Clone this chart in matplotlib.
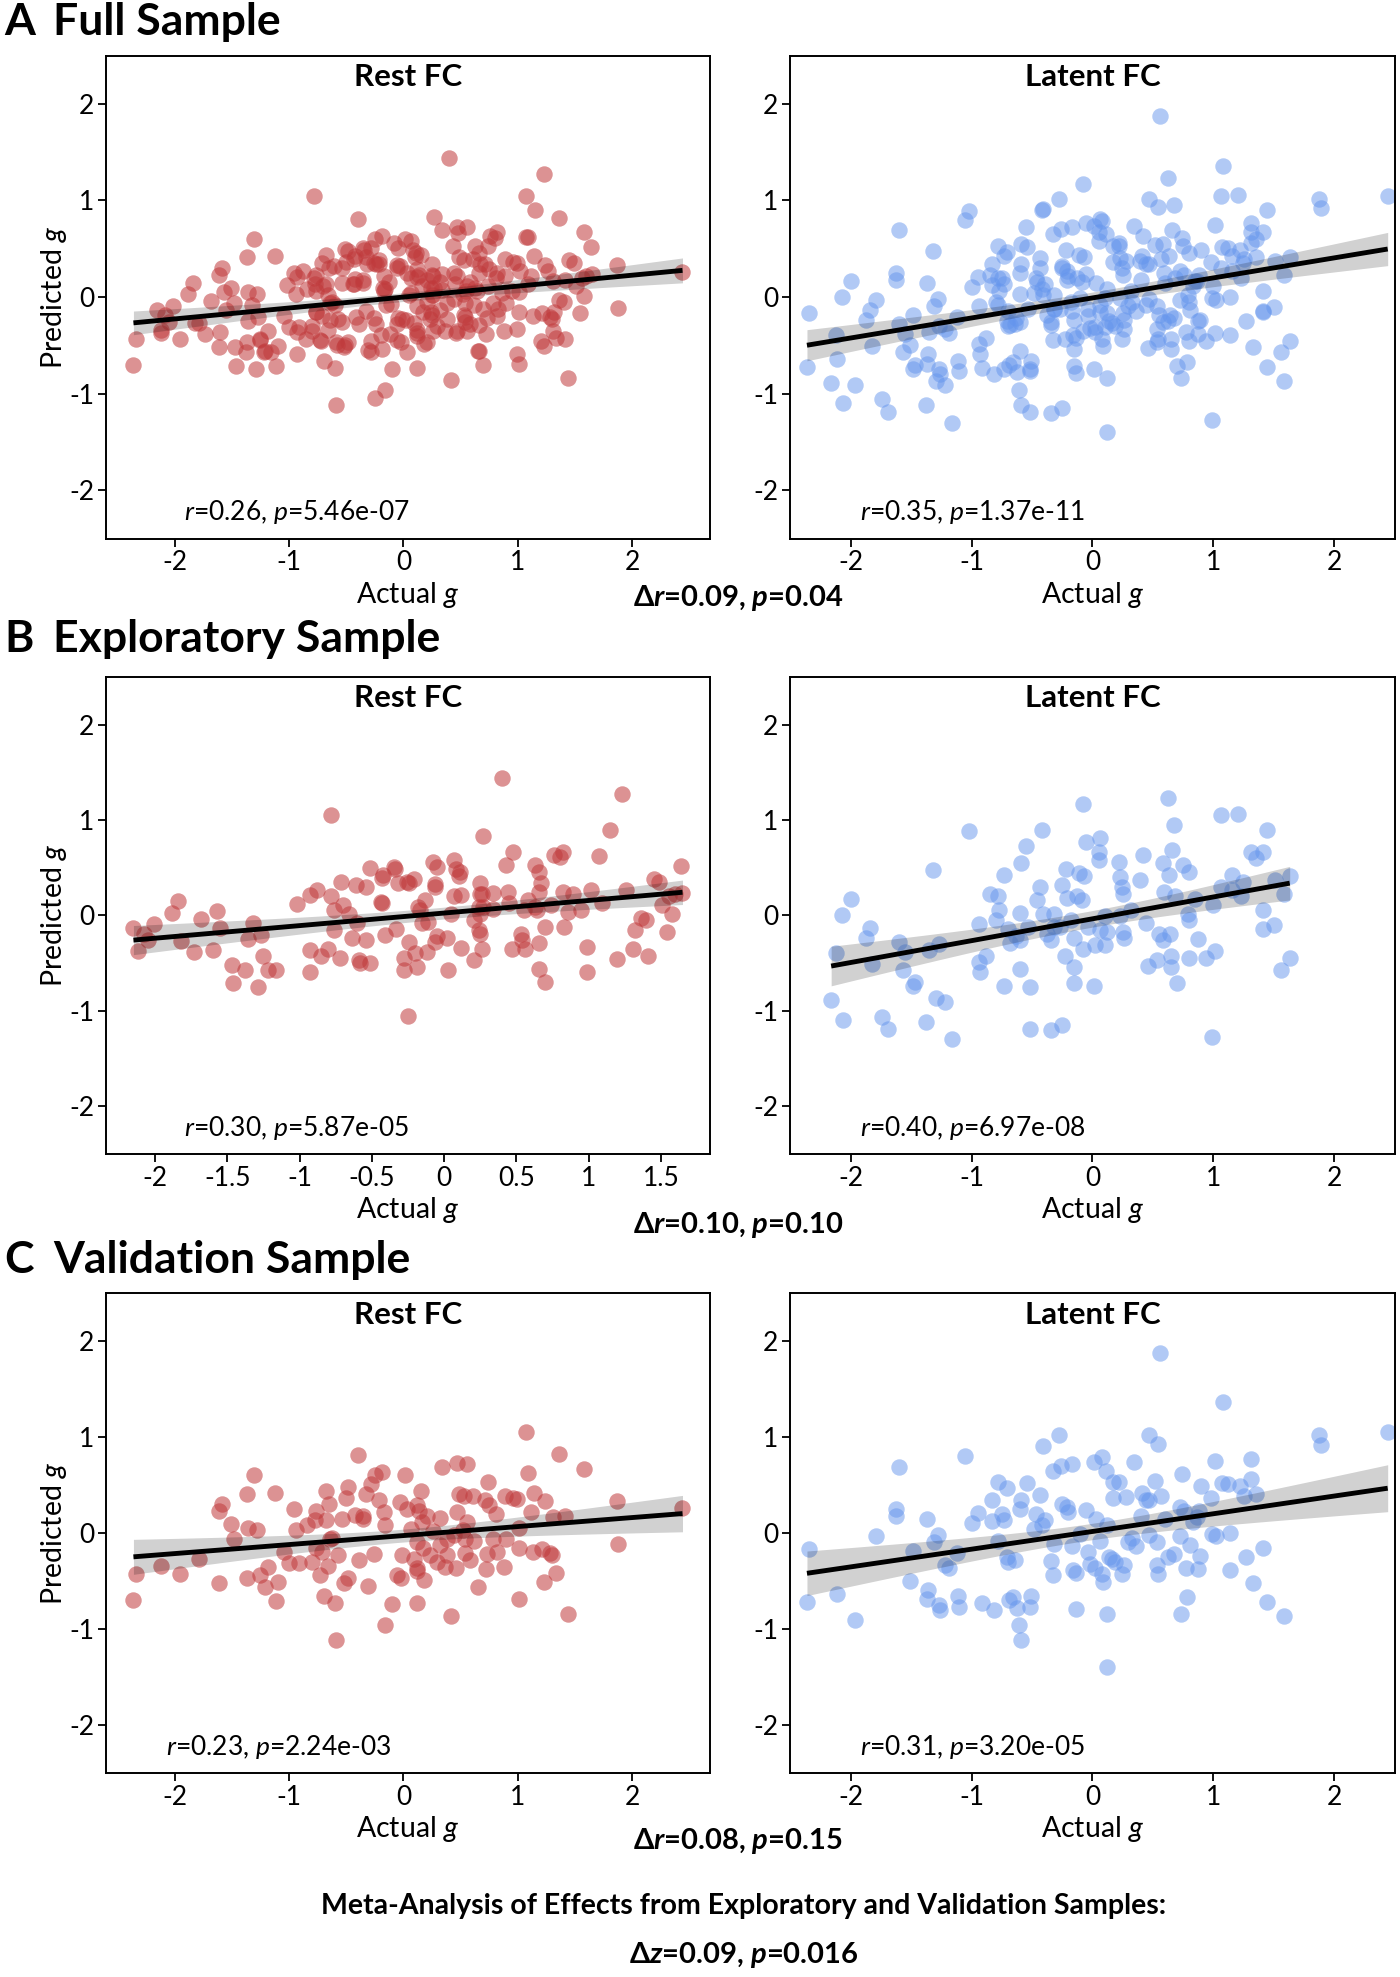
import numpy as np
import matplotlib
matplotlib.use('Agg')
import matplotlib.pyplot as plt
from matplotlib.ticker import FuncFormatter

plt.rcParams['font.family'] = ['Lato', 'DejaVu Sans']
plt.rcParams['axes.unicode_minus'] = False
plt.rcParams['mathtext.fontset'] = 'custom'
plt.rcParams['mathtext.rm'] = 'Lato'
plt.rcParams['mathtext.it'] = 'Lato:italic'
plt.rcParams['mathtext.bf'] = 'Lato:bold'
plt.rcParams['mathtext.bfit'] = 'Lato:italic:bold'

# ---- exploratory sample, rest FC ----
expl_rest_actual = [
    -2.15, -2.12, -2.08, -2.01, -2.05, -1.88, -1.84, -1.82, -1.73, -1.68,
    -1.60, -1.57, -1.55, -1.47, -1.46, -1.38, -1.36, -1.32, -1.29, -1.27,
    -1.25, -1.22, -1.16, -1.02, -0.93, -0.93, -0.93, -0.88, -0.85, -0.80,
    -0.78, -0.78, -0.76, -0.76, -0.71, -0.72, -0.70, -0.66, -0.64, -0.61,
    -0.60, -0.59, -0.58, -0.54, -0.54, -0.51, -0.51, -0.43, -0.42, -0.44,
    -0.43, -0.41, -0.35, -0.34, -0.33, -0.32, -0.28, -0.28, -0.25, -0.24,
    -0.24, -0.21, -0.20, -0.19, -0.18, -0.17, -0.15, -0.13, -0.12, -0.11,
    -0.08, -0.06, -0.06, -0.06, -0.05, -0.05, 0.02, 0.03, 0.05, 0.07,
    0.08, 0.10, 0.07, 0.12, 0.12, 0.21, 0.21, 0.25, 0.25, 0.26,
    0.24, 0.25, 0.24, 0.25, 0.26, 0.27, 0.27, 0.43, 0.44, 0.48,
    0.47, 0.40, 0.45, 0.53, 0.54, 0.56, 0.55, 0.63, 0.66, 0.66,
    0.67, 0.64, 0.66, 0.66, 0.70, 0.70, 0.74, 0.76, 0.80, 0.82,
    0.82, 0.83, 0.86, 0.95, 0.99, 0.99, 1.02, 1.07, 1.09, 1.15,
    1.20, 1.23, 1.26, 1.32, 1.31, 1.36, 1.40, 1.41, 1.45, 1.49,
    1.51, 1.54, 1.58, 1.60, 1.64, 1.65, 1.56, 0.89, 0.34, 0.11,
    -0.26, 0.63, 0.58, 0.34]
expl_rest_pred = [
    -0.13, -0.37, -0.19, -0.09, -0.26, 0.03, 0.15, -0.27, -0.38, -0.04,
    -0.36, 0.05, -0.13, -0.52, -0.71, -0.57, -0.25, -0.08, -0.75, -0.21,
    -0.43, -0.57, -0.57, 0.12, -0.36, -0.59, 0.21, 0.27, -0.43, -0.35,
    0.20, 1.05, 0.06, -0.15, 0.35, -0.45, 0.11, 0.02, -0.24, 0.32,
    -0.08, -0.47, -0.50, 0.30, -0.26, -0.50, 0.50, 0.39, 0.42, 0.14,
    0.13, -0.21, 0.51, 0.49, -0.14, 0.34, -0.45, -0.57, -1.05, -0.28,
    0.34, 0.38, -0.39, -0.54, 0.09, 0.06, -0.08, 0.16, -0.38, -0.07,
    0.56, 0.30, 0.33, -0.28, -0.22, 0.51, -0.24, -0.57, 0.02, 0.58,
    0.49, 0.41, 0.20, 0.21, -0.34, -0.47, -0.05, 0.34, 0.23, 0.22,
    0.09, 0.02, -0.15, -0.19, -0.35, 0.83, 0.09, 0.53, 0.25, 0.66,
    -0.35, 1.44, 0.13, -0.19, -0.26, -0.35, 0.06, 0.53, 0.25, 0.46,
    0.34, 0.06, -0.29, -0.56, -0.70, -0.12, 0.11, 0.63, 0.61, 0.67,
    0.25, -0.12, 0.04, 0.06, -0.33, -0.59, 0.27, 0.62, 0.13, 0.90,
    -0.46, 1.27, 0.27, -0.15, -0.35, -0.03, -0.05, -0.43, 0.38, 0.35,
    0.11, -0.17, 0.01, 0.22, 0.52, 0.24, 0.20, 0.22, 0.24, 0.46,
    0.35, 0.09, 0.16, 0.07]

# ---- exploratory sample, latent FC ----
expl_latent_actual = [
    -2.16, -2.12, -2.07, -2.06, -2.00, -1.87, -1.84, -1.82, -1.74, -1.69,
    -1.60, -1.57, -1.55, -1.47, -1.48, -1.38, -1.35, -1.32, -1.29, -1.27,
    -1.22, -1.16, -1.02, -0.94, -0.94, -0.93, -0.88, -0.85, -0.80, -0.78,
    -0.77, -0.73, -0.73, -0.70, -0.68, -0.63, -0.60, -0.60, -0.59, -0.60,
    -0.55, -0.53, -0.52, -0.52, -0.46, -0.43, -0.42, -0.41, -0.38, -0.34,
    -0.34, -0.32, -0.25, -0.25, -0.23, -0.22, -0.21, -0.18, -0.15, -0.15,
    -0.15, -0.13, -0.11, -0.09, -0.08, -0.08, -0.07, -0.05, -0.04, 0.01,
    0.02, 0.05, 0.06, 0.05, 0.06, 0.10, 0.12, 0.22, 0.23, 0.24,
    0.25, 0.25, 0.26, 0.23, 0.39, 0.42, 0.44, 0.46, 0.53, 0.55,
    0.58, 0.59, 0.62, 0.63, 0.64, 0.65, 0.66, 0.67, 0.65, 0.70,
    0.68, 0.75, 0.80, 0.80, 0.80, 0.85, 0.87, 0.94, 0.99, 1.01,
    1.00, 1.06, 1.06, 1.15, 1.20, 1.23, 1.24, 1.31, 1.35, 1.41,
    1.41, 1.41, 1.44, 1.50, 1.51, 1.56, 1.58, 1.63, 1.63, 1.15,
    0.79, 0.32, -0.27, -0.32, 0.10, 0.58]
expl_latent_pred = [
    -0.89, -0.39, 0.00, -1.10, 0.17, -0.24, -0.13, -0.51, -1.06, -1.19,
    -0.28, -0.57, -0.38, -0.70, -0.74, -1.12, -0.36, 0.48, -0.87, -0.30,
    -0.91, -1.30, 0.89, -0.09, -0.49, -0.59, -0.42, 0.23, -0.05, 0.20,
    0.06, 0.42, -0.74, -0.14, -0.29, -0.22, 0.03, -0.56, 0.55, -0.26,
    0.73, -0.12, -0.75, -1.19, 0.16, 0.30, 0.90, 0.02, -0.19, -0.26,
    -1.20, -0.12, 0.32, -1.15, -0.43, 0.49, 0.18, -0.05, -0.54, -0.71,
    -0.24, 0.20, 0.44, 0.16, -0.35, 1.17, 0.41, 0.77, -0.12, -0.74,
    -0.31, 0.58, 0.81, 0.67, -0.15, -0.01, -0.17, 0.56, 0.40, 0.30,
    0.23, -0.17, -0.24, -0.01, 0.37, 0.63, -0.08, -0.53, -0.47, -0.19,
    0.55, 0.25, 1.23, 0.42, -0.19, -0.43, 0.69, 0.95, -0.54, -0.71,
    0.20, 0.53, 0.46, -0.05, -0.45, 0.17, -0.25, -0.45, -1.27, -0.37,
    0.11, 1.05, 0.30, 0.42, 1.06, 0.20, 0.35, 0.67, 0.60, 0.67,
    0.06, -0.14, 0.90, -0.10, 0.37, -0.57, 0.23, -0.45, 0.41, 0.27,
    0.02, 0.06, -0.12, 0.02, -0.31, -0.26]

# ---- validation sample, rest FC ----
valid_rest_actual = [
    -2.36, -2.34, -2.12, -1.95, -1.79, -1.61, -1.61, -1.59, -1.51, -1.48,
    -1.37, -1.37, -1.36, -1.31, -1.28, -1.25, -1.21, -1.18, -1.12, -1.10,
    -1.11, -1.04, -1.00, -0.96, -0.94, -0.91, -0.84, -0.80, -0.77, -0.76,
    -0.76, -0.73, -0.71, -0.69, -0.68, -0.68, -0.66, -0.65, -0.62, -0.60,
    -0.59, -0.57, -0.54, -0.52, -0.48, -0.50, -0.48, -0.42, -0.39, -0.40,
    -0.35, -0.33, -0.31, -0.28, -0.26, -0.25, -0.21, -0.19, -0.17, -0.16,
    -0.16, -0.10, -0.06, -0.03, -0.01, -0.02, 0.01, 0.03, 0.07, 0.09,
    0.12, 0.12, 0.12, 0.14, 0.15, 0.16, 0.12, 0.17, 0.21, 0.23,
    0.26, 0.29, 0.32, 0.34, 0.36, 0.38, 0.42, 0.44, 0.46, 0.47,
    0.47, 0.49, 0.53, 0.54, 0.54, 0.56, 0.56, 0.58, 0.61, 0.62,
    0.65, 0.71, 0.72, 0.73, 0.74, 0.75, 0.78, 0.81, 0.82, 0.88,
    0.89, 0.90, 0.96, 0.99, 1.01, 1.01, 1.01, 1.07, 1.09, 1.12,
    1.14, 1.13, 1.21, 1.24, 1.23, 1.28, 1.31, 1.30, 1.33, 1.36,
    1.41, 1.44, 1.58, 1.87, 1.88, 2.44, 0.38, 0.32, 0.18, 0.12,
    0.52, -0.64, -0.35]
valid_rest_pred = [
    -0.70, -0.43, -0.34, -0.43, -0.27, -0.52, 0.23, 0.30, 0.09, -0.06,
    0.41, -0.47, 0.05, 0.60, 0.03, -0.44, -0.56, -0.35, 0.42, -0.51,
    -0.71, -0.20, -0.31, 0.25, 0.03, -0.31, 0.08, -0.30, 0.13, 0.23,
    -0.16, -0.44, -0.20, -0.66, 0.44, 0.14, -0.34, 0.30, -0.05, -0.73,
    -1.12, -0.23, 0.15, -0.52, -0.47, 0.36, 0.48, 0.19, -0.28, 0.81,
    0.15, 0.41, -0.55, 0.51, -0.22, 0.60, 0.34, 0.63, 0.22, 0.08,
    -0.96, -0.74, -0.44, 0.32, -0.23, -0.47, 0.60, 0.25, 0.04, -0.27,
    -0.09, -0.73, 0.29, 0.23, 0.44, 0.11, -0.37, -0.16, 0.18, -0.23,
    0.02, -0.30, 0.16, 0.69, -0.35, -0.23, -0.86, -0.02, -0.37, 0.73,
    0.22, 0.41, 0.38, -0.06, -0.21, 0.72, 0.11, -0.28, 0.39, -0.08,
    -0.56, 0.34, -0.38, -0.22, 0.53, 0.29, -0.06, 0.20, -0.20, -0.35,
    0.39, -0.06, 0.36, 0.35, 0.05, -0.16, -0.69, 1.05, 0.62, 0.22,
    0.42, -0.20, -0.17, 0.33, -0.51, -0.21, 0.17, -0.23, -0.42, 0.82,
    0.18, -0.84, 0.67, 0.33, -0.11, 0.26, -0.06, -0.13, -0.49, -0.40,
    0.03, -0.06, 0.18]

# ---- validation sample, latent FC ----
valid_latent_actual = [
    -2.36, -2.34, -2.11, -1.96, -1.79, -1.62, -1.62, -1.60, -1.51, -1.48,
    -1.37, -1.36, -1.37, -1.31, -1.28, -1.27, -1.26, -1.22, -1.19, -1.12,
    -1.11, -1.10, -1.05, -1.00, -0.95, -0.91, -0.83, -0.83, -0.81, -0.78,
    -0.78, -0.75, -0.73, -0.71, -0.71, -0.70, -0.69, -0.66, -0.64, -0.62,
    -0.61, -0.59, -0.60, -0.59, -0.54, -0.52, -0.51, -0.48, -0.47, -0.43,
    -0.42, -0.41, -0.39, -0.34, -0.33, -0.33, -0.32, -0.28, -0.26, -0.25,
    -0.21, -0.20, -0.17, -0.17, -0.16, -0.14, -0.14, -0.10, -0.05, -0.04,
    -0.02, 0.01, 0.02, 0.03, 0.06, 0.08, 0.08, 0.09, 0.11, 0.12,
    0.12, 0.12, 0.14, 0.16, 0.17, 0.17, 0.19, 0.22, 0.24, 0.26,
    0.28, 0.29, 0.33, 0.34, 0.36, 0.40, 0.41, 0.44, 0.47, 0.47,
    0.47, 0.52, 0.53, 0.54, 0.53, 0.54, 0.56, 0.57, 0.60, 0.62,
    0.67, 0.72, 0.72, 0.73, 0.74, 0.76, 0.77, 0.78, 0.81, 0.83,
    0.87, 0.88, 0.89, 0.90, 0.98, 0.99, 1.01, 1.02, 1.07, 1.12,
    1.14, 1.14, 1.08, 1.22, 1.25, 1.27, 1.31, 1.31, 1.33, 1.35,
    1.41, 1.44, 1.58, 1.87, 1.89, 2.44, 0.86]
valid_latent_pred = [
    -0.72, -0.17, -0.64, -0.91, -0.03, 0.25, 0.18, 0.69, -0.50, -0.19,
    0.15, -0.59, -0.69, -0.09, -0.02, -0.75, -0.80, -0.33, -0.37, -0.21,
    -0.66, -0.77, 0.80, 0.10, 0.21, -0.73, 0.34, 0.12, -0.80, 0.53,
    -0.08, 0.20, 0.13, 0.47, -0.25, -0.30, -0.70, -0.67, -0.28, -0.78,
    -0.96, -1.12, 0.25, 0.34, 0.52, -0.77, -0.66, 0.04, 0.20, 0.40,
    0.08, 0.91, 0.13, -0.29, -0.44, 0.65, -0.12, 1.02, 0.70, 0.30,
    0.27, 0.22, 0.72, -0.14, -0.39, -0.42, -0.79, -0.01, 0.24, -0.20,
    -0.32, 0.74, -0.36, 0.15, -0.08, 0.79, -0.43, -0.51, 0.65, 0.08,
    -0.84, -1.40, -0.25, -0.27, 0.53, 0.36, -0.30, 0.53, -0.43, -0.33,
    0.37, -0.09, -0.05, 0.74, -0.14, 0.18, 0.42, 0.34, 0.34, 1.02,
    -0.02, 0.54, -0.09, 0.93, -0.33, -0.43, 1.87, 0.39, 0.15, -0.25,
    -0.22, -0.03, 0.27, -0.84, 0.61, 0.23, -0.36, -0.67, -0.13, 0.11,
    -0.38, 0.23, -0.24, 0.49, 0.36, -0.01, 0.75, -0.03, 0.52, 0.51,
    0.00, -0.39, 1.36, 0.49, 0.39, -0.25, 0.77, 0.56, -0.52, 0.41,
    -0.16, -0.72, -0.87, 1.02, 0.92, 1.05, 0.17]

# full sample = exploratory + validation
full_rest_actual = expl_rest_actual + valid_rest_actual
full_rest_pred = expl_rest_pred + valid_rest_pred
full_latent_actual = expl_latent_actual + valid_latent_actual
full_latent_pred = expl_latent_pred + valid_latent_pred

section_letters = ['A', 'B', 'C']
section_titles = ['Full Sample', 'Exploratory Sample', 'Validation Sample']
rest_stats = [('0.26', '5.46e-07'), ('0.30', '5.87e-05'), ('0.23', '2.24e-03')]
latent_stats = [('0.35', '1.37e-11'), ('0.40', '6.97e-08'), ('0.31', '3.20e-05')]
diff_stats = [('0.09', '0.04'), ('0.10', '0.10'), ('0.08', '0.15')]
meta_title = 'Meta-Analysis of Effects from Exploratory and Validation Samples:'
meta_stats = ('0.09', '0.016')

RED = '#c0393b'
BLUE = '#6495ed'


def scatter_panel(ax, x, y, color, alpha, title, stats, xlim=None, xticks=(-2, -1, 0, 1, 2), ylabel=True, note_x=0.115):
    x = np.asarray(x)
    y = np.asarray(y)
    ax.scatter(x, y, s=140, color=color, alpha=alpha, linewidths=0, zorder=2)

    # least squares fit + 95% CI of the mean
    slope, icpt = np.polyfit(x, y, 1)
    xs = np.linspace(x.min(), x.max(), 100)
    yhat = icpt + slope * xs
    n = len(x)
    resid = y - (icpt + slope * x)
    se = np.sqrt(np.sum(resid ** 2) / (n - 2))
    half = 1.97 * se * np.sqrt(1.0 / n + (xs - x.mean()) ** 2 / np.sum((x - x.mean()) ** 2))
    ax.fill_between(xs, yhat - half, yhat + half, color='black', alpha=0.18, lw=0, zorder=3)
    ax.plot(xs, yhat, color='black', lw=3.5, solid_capstyle='butt', zorder=4)

    if xlim is None:
        ax.margins(x=0.05)
    else:
        ax.set_xlim(xlim)
    ax.set_ylim(-2.5, 2.5)
    ax.set_xticks(xticks)
    ax.set_yticks([-2, -1, 0, 1, 2])
    fmt = FuncFormatter(lambda v, p: f'{v:g}')
    ax.xaxis.set_major_formatter(fmt)
    ax.yaxis.set_major_formatter(fmt)
    ax.tick_params(direction='out', length=5.5, width=1.3, labelsize=19, pad=3)
    for sp in ax.spines.values():
        sp.set_linewidth(1.4)

    ax.text(0.5, 0.955, title, transform=ax.transAxes, ha='center', va='center',
            fontsize=22.5, fontweight='bold')
    ax.text(note_x, 0.055, f'$r$={stats[0]}, $p$={stats[1]}', transform=ax.transAxes,
            ha='left', va='center', fontsize=19)
    ax.set_xlabel('Actual $g$', fontsize=20.5)
    ax.xaxis.set_label_coords(0.5, -0.085)
    if ylabel:
        ax.set_ylabel('Predicted $g$', fontsize=20.5)
        ax.yaxis.set_label_coords(-0.062, 0.5)


fig = plt.figure(figsize=(14, 19.77), dpi=100)

rows = [0.7276, 0.4163, 0.1032]
heights = [0.2443, 0.2413, 0.2428]
title_y = [0.9823, 0.6704, 0.3561]
diff_y = [1 - 598 / 1977, 1 - 1225 / 1977, 1 - 1841 / 1977]

samples = [
    (full_rest_actual, full_rest_pred, full_latent_actual, full_latent_pred),
    (expl_rest_actual, expl_rest_pred, expl_latent_actual, expl_latent_pred),
    (valid_rest_actual, valid_rest_pred, valid_latent_actual, valid_latent_pred),
]
note_left = [0.130, 0.129, 0.100]

for i, (ra, rp, la, lp) in enumerate(samples):
    axl = fig.add_axes([0.0757, rows[i], 0.4314, heights[i]])
    axr = fig.add_axes([0.5643, rows[i], 0.4321, heights[i]])
    if i == 1:
        left_ticks = np.arange(-2, 1.51, 0.5)
    else:
        left_ticks = (-2, -1, 0, 1, 2)
    scatter_panel(axl, ra, rp, RED, 0.55, 'Rest FC', rest_stats[i], xticks=left_ticks, note_x=note_left[i])
    scatter_panel(axr, la, lp, BLUE, 0.5, 'Latent FC', latent_stats[i], xlim=(-2.5, 2.5), ylabel=False)

    fig.text(0.003, title_y[i], section_letters[i], fontsize=32, fontweight='bold', va='baseline')
    fig.text(0.038, title_y[i], section_titles[i], fontsize=32, fontweight='bold', va='baseline')
    fig.text(0.527, diff_y[i], r'Δ$\mathbfit{r}$=' + diff_stats[i][0] + r', $\mathbfit{p}$=' + diff_stats[i][1],
             ha='center', va='center', fontsize=21, fontweight='bold')

fig.text(0.531, 1 - 1906 / 1977, meta_title, ha='center', va='center', fontsize=20.5, fontweight='bold')
fig.text(0.531, 1 - 1955 / 1977, r'Δ$\mathbfit{z}$=' + meta_stats[0] + r', $\mathbfit{p}$=' + meta_stats[1],
         ha='center', va='center', fontsize=21, fontweight='bold')

fig.savefig('out.png', dpi=100)
